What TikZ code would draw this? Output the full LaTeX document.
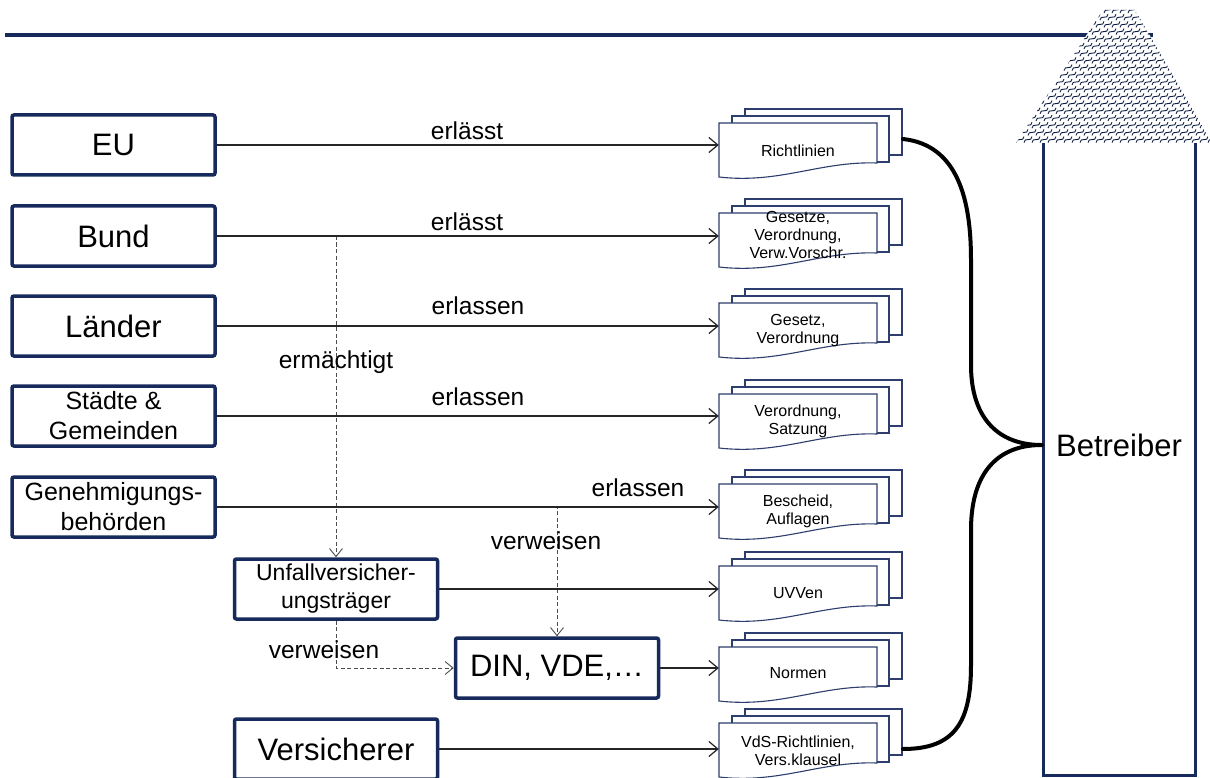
\documentclass[tikz,border=0pt]{standalone}
\usepackage{fontspec}
\setmainfont{Liberation Sans}
\usetikzlibrary{arrows.meta}

\definecolor{navy}{RGB}{22,42,92}
\definecolor{sheetblue}{RGB}{45,62,110}

\tikzset{
    bigbox/.style={draw=navy, line width=3.5pt, rounded corners=2pt, fill=white,
        minimum width=203pt, minimum height=60pt, inner sep=0pt, align=center,
        font=\fontsize{31}{33}\selectfont},
    twoline/.style={font=\fontsize{25}{30}\selectfont},
    sheet/.style={draw=sheetblue, line width=1.1pt, fill=white},
    doctext/.style={minimum width=158pt, inner sep=0pt, align=center,
        font=\fontsize{16}{18}\selectfont},
    lbl/.style={font=\fontsize{24.5}{27}\selectfont, inner sep=0pt},
    arr/.style={-{Straight Barb[length=9pt,width=15pt]}, line width=1.2pt, black!85},
    refline/.style={-{Straight Barb[length=8pt,width=13pt]}, line width=0.9pt,
        black!70, dash pattern=on 4pt off 2.5pt},
    brace/.style={line width=4pt, line cap=round, black},
    tile/.style={draw=navy!75!black, line width=0.9pt},
}

\newcommand{\docstack}[4]{%
    \draw[sheet] (745,#2-37) rectangle (902,#2+9);
    \draw[sheet] (732,#2-30) rectangle (889,#2+16);
    \draw[sheet] (719,#2-23) -- (877,#2-23) -- (877,#2+17)
        .. controls (820,#2+15) and (780,#2+38) .. (719,#2+31) -- cycle;
    \node[doctext] (#1) at (798,#3) {#4};
}

\begin{document}
\begin{tikzpicture}[x=1pt, y=-1pt]
    \clip (0,0) rectangle (1210,778);
    \fill[white] (0,0) rectangle (1210,778);

    \draw[navy, line width=4pt] (5,35) -- (1153,35);

    % Betreiber
    \node[draw=navy, line width=3pt, minimum width=152pt, minimum height=633pt, inner sep=0pt]
        (house) at (1119,458.5) {};
    \node[font=\fontsize{31}{33}\selectfont, inner sep=0pt] (betr) at (1119,445) {Betreiber};

    \begin{scope}
        \clip (1016,143) -- (1103,10) -- (1135,10) -- (1212,143) -- cycle;
        \fill[white] (1000,0) rectangle (1215,146);
        \foreach \r in {0,...,18} {
            \foreach \c in {0,...,26} {
                \path[tile] ({1004+\c*8+mod(\r,2)*4-4}, {10+\r*7.2+3})
                    .. controls +(0,-6) and +(0,6) .. +(8,-6);
            }
        }
    \end{scope}

    % sources
    \node[bigbox] (eu) at (113.5,145) {EU};
    \node[bigbox] (bund) at (113.5,236) {Bund};
    \node[bigbox] (laender) at (113.5,326) {Länder};
    \node[bigbox, twoline] (staedte) at (113.5,416) {Städte \&\\Gemeinden};
    \node[bigbox, twoline] (genehm) at (113.5,507) {Genehmigungs-\\behörden};
    \node[bigbox, font=\fontsize{23}{28}\selectfont] (unfall) at (336,589) {Unfallversicher-\\ungsträger};
    \node[bigbox] (din) at (557,668) {DIN, VDE,\dots};
    \node[bigbox] (vers) at (336,749) {Versicherer};

    % documents
    \docstack{r1}{146}{151}{Richtlinien}
    \docstack{r2}{236}{235}{Gesetze,\\Verordnung,\\Verw.Vorschr.}
    \docstack{r3}{326}{331}{Gesetz,\\Verordnung}
    \docstack{r4}{417}{421}{Verordnung,\\Satzung}
    \docstack{r5}{507}{511}{Bescheid,\\Auflagen}
    \docstack{r6}{589}{593}{UVVen}
    \docstack{r7}{670}{673}{Normen}
    \docstack{r8}{746}{751}{VdS-Richtlinien,\\Vers.klausel}

    \draw[refline] (genehm.east) -- (din.north |- genehm) -- (din.north);
    \draw[refline] (unfall.north |- bund) -- (unfall.north);
    \draw[refline] (unfall.south) |- (din.west);

    \draw[arr] (eu) -- (eu -| r1.west);
    \draw[arr] (bund) -- (bund -| r2.west);
    \draw[arr] (laender) -- (laender -| r3.west);
    \draw[arr] (staedte) -- (staedte -| r4.west);
    \draw[arr] (genehm) -- (genehm -| r5.west);
    \draw[arr] (unfall) -- (unfall -| r6.west);
    \draw[arr] (din) -- (din -| r7.west);
    \draw[arr] (vers) -- (vers -| r8.west);

    \node[lbl] (l1) at (467,131) {erlässt};
    \node[lbl] (l2) at (467,222) {erlässt};
    \node[lbl] (l3) at (478,306) {erlassen};
    \node[lbl] (l4) at (336,362) {ermächtigt};
    \node[lbl] (l5) at (478,397) {erlassen};
    \node[lbl] (l6) at (638,488) {erlassen};
    \node[lbl] (l7) at (546,541) {verweisen};
    \node[lbl] (l8) at (324,650) {verweisen};

    \coordinate (bt) at (903,139);
    \coordinate (bb) at (903,749);
    \draw[brace] (bt) .. controls (958,145) and (971,200) .. (971,260) -- (971,365)
        .. controls (971,420) and (1000,445) .. (house.west |- betr);
    \draw[brace] (house.west |- betr) .. controls (1000,445) and (971,470) .. (971,530)
        -- (971,665) .. controls (971,722) and (955,749) .. (bb);
\end{tikzpicture}
\end{document}
